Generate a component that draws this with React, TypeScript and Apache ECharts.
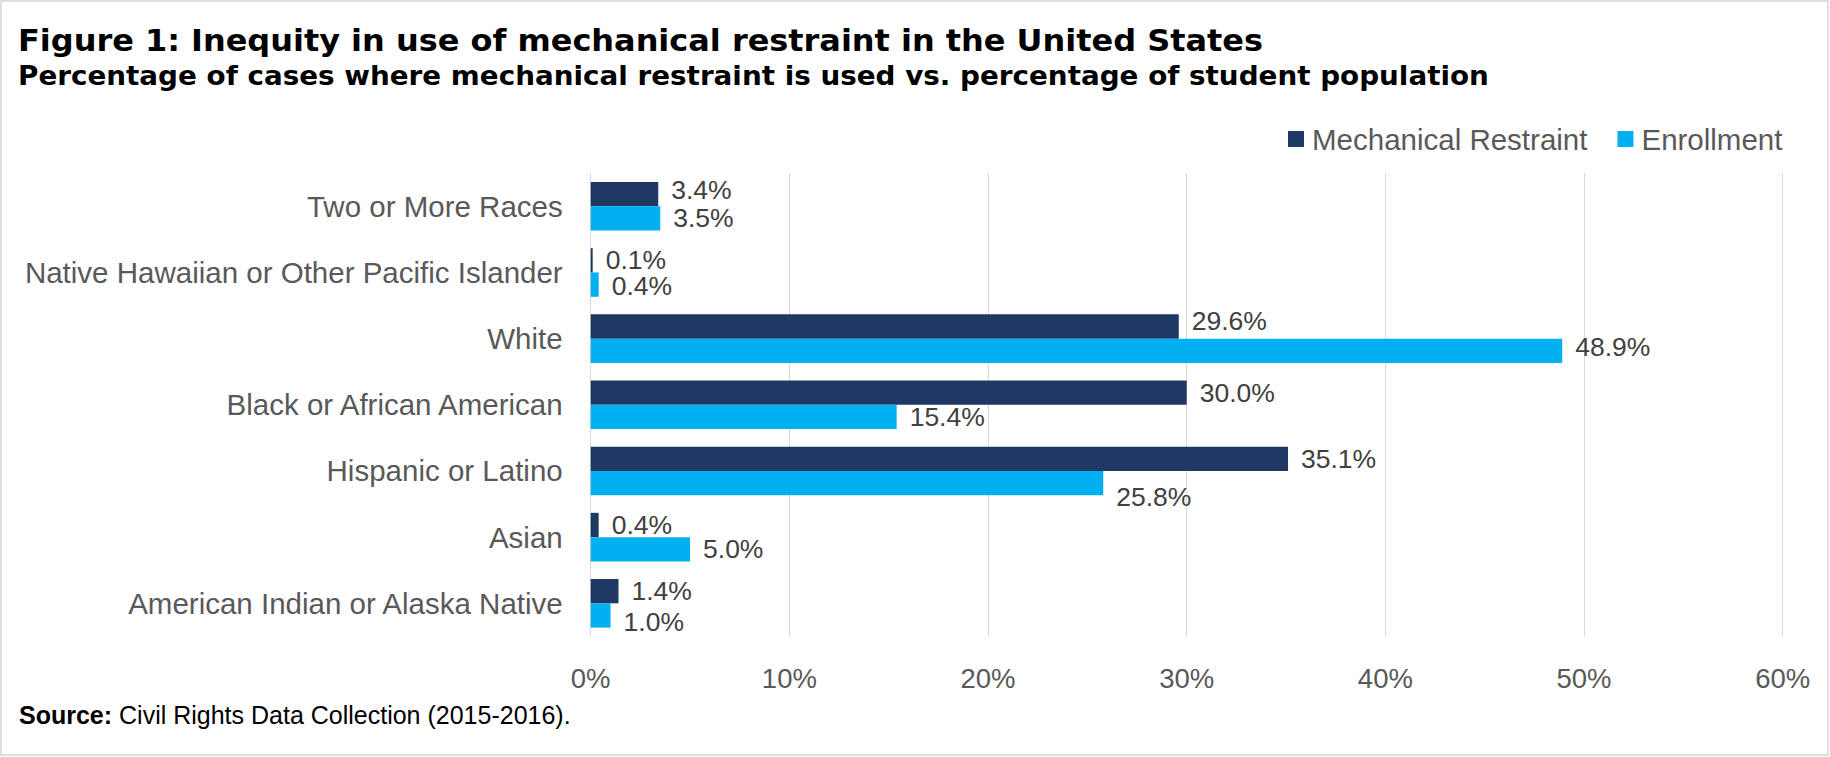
import React, { useEffect, useRef } from 'react';
import * as echarts from 'echarts';

const categories = [
  'Two or More Races',
  'Native Hawaiian or Other Pacific Islander',
  'White',
  'Black or African American',
  'Hispanic or Latino',
  'Asian',
  'American Indian or Alaska Native',
];
const restraint = [3.4, 0.1, 29.6, 30.0, 35.1, 0.4, 1.4];
const enrollment = [3.5, 0.4, 48.9, 15.4, 25.8, 5.0, 1.0];
const seriesNames = ['Mechanical Restraint', 'Enrollment'];
const titleText = 'Figure 1: Inequity in use of mechanical restraint in the United States';
const subtitleText = 'Percentage of cases where mechanical restraint is used vs. percentage of student population';
const sourceLabel = 'Source:';
const sourceText = ' Civil Rights Data Collection (2015-2016).';

// small vertical nudges of data labels, as placed in the original (index -> px)
const restraintLabelNudge: Record<number, number> = { 0: -4, 2: -5 };
const enrollmentLabelNudge: Record<number, number> = { 1: 1, 2: -4, 4: 14, 6: 7 };

const SANS = '"Liberation Sans", Arial, sans-serif';
const HEAD = '"DejaVu Sans", sans-serif';

export default function App() {
  const ref = useRef<HTMLDivElement>(null);
  useEffect(() => {
    if (!ref.current) return;
    const chart = echarts.init(ref.current, null, { renderer: 'svg' });
    const labelFmt = (p: any) => Number(p.value).toFixed(1) + '%';
    const baseLabel = {
      show: true,
      position: 'right',
      distance: 13,
      formatter: labelFmt,
      fontFamily: SANS,
      fontSize: 26.5,
      lineHeight: 22,
      color: '#404040',
    };
    const build = (vals: number[], nudge: Record<number, number>) =>
      vals.map((v, i) =>
        nudge[i] !== undefined ? { value: v, label: { offset: [0, nudge[i]] } } : v
      );
    chart.setOption({
      animation: false,
      backgroundColor: '#ffffff',
      grid: { left: 590.7, right: 47.3, top: 173.2, bottom: 120.6 },
      legend: {
        data: seriesNames,
        left: 1283,
        top: 119,
        icon: 'rect',
        itemWidth: 16,
        itemHeight: 16,
        itemGap: 30,
        itemStyle: { borderWidth: 0 },
        textStyle: { fontFamily: SANS, fontSize: 29.5, color: '#595959', padding: [0, 0, 0, 3] },
      },
      xAxis: {
        type: 'value',
        min: 0,
        max: 60,
        interval: 10,
        axisLine: { show: false },
        axisTick: { show: false },
        axisLabel: { formatter: '{value}%', fontFamily: SANS, fontSize: 27.5, color: '#595959', margin: 28 },
        splitLine: { show: true, lineStyle: { color: '#d9d9d9', width: 1 } },
      },
      yAxis: {
        type: 'category',
        data: categories,
        inverse: true,
        axisLine: { show: false },
        axisTick: { show: false },
        axisLabel: { fontFamily: SANS, fontSize: 29.5, color: '#595959', margin: 28 },
      },
      series: [
        {
          name: seriesNames[0],
          type: 'bar',
          data: build(restraint, restraintLabelNudge),
          barGap: '0%',
          barCategoryGap: '26.5%',
          itemStyle: { color: '#203864' },
          label: baseLabel,
        },
        {
          name: seriesNames[1],
          type: 'bar',
          data: build(enrollment, enrollmentLabelNudge),
          barGap: '0%',
          barCategoryGap: '26.5%',
          itemStyle: { color: '#00b0f0' },
          label: baseLabel,
        },
      ],
      graphic: [
        {
          type: 'rect',
          shape: { x: 1, y: 1, width: 1827, height: 754 },
          style: { fill: 'none', stroke: '#d4d4d4', lineWidth: 1.5 },
          silent: true,
        },
        {
          type: 'text',
          x: 18,
          y: 40,
          scaleX: 1.031,
          style: { text: titleText, fontFamily: HEAD, fontWeight: 'bold', fontSize: 31, fill: '#000000', verticalAlign: 'middle', align: 'left' },
        },
        {
          type: 'text',
          x: 18,
          y: 76,
          scaleX: 1.07,
          style: { text: subtitleText, fontFamily: HEAD, fontWeight: 'bold', fontSize: 26, fill: '#000000', verticalAlign: 'middle', align: 'left' },
        },
        {
          type: 'text',
          x: 19,
          y: 715,
          style: {
            text: '{b|' + sourceLabel + '}' + sourceText,
            fontFamily: SANS,
            fontSize: 25,
            fill: '#000000',
            verticalAlign: 'middle',
            align: 'left',
            rich: { b: { fontFamily: SANS, fontWeight: 'bold', fontSize: 25, fill: '#000000' } },
          },
        },
      ],
    });
    return () => chart.dispose();
  }, []);
  return <div ref={ref} style={{ position: 'absolute', left: 0, top: 0, width: 1830, height: 757 }} />;
}
